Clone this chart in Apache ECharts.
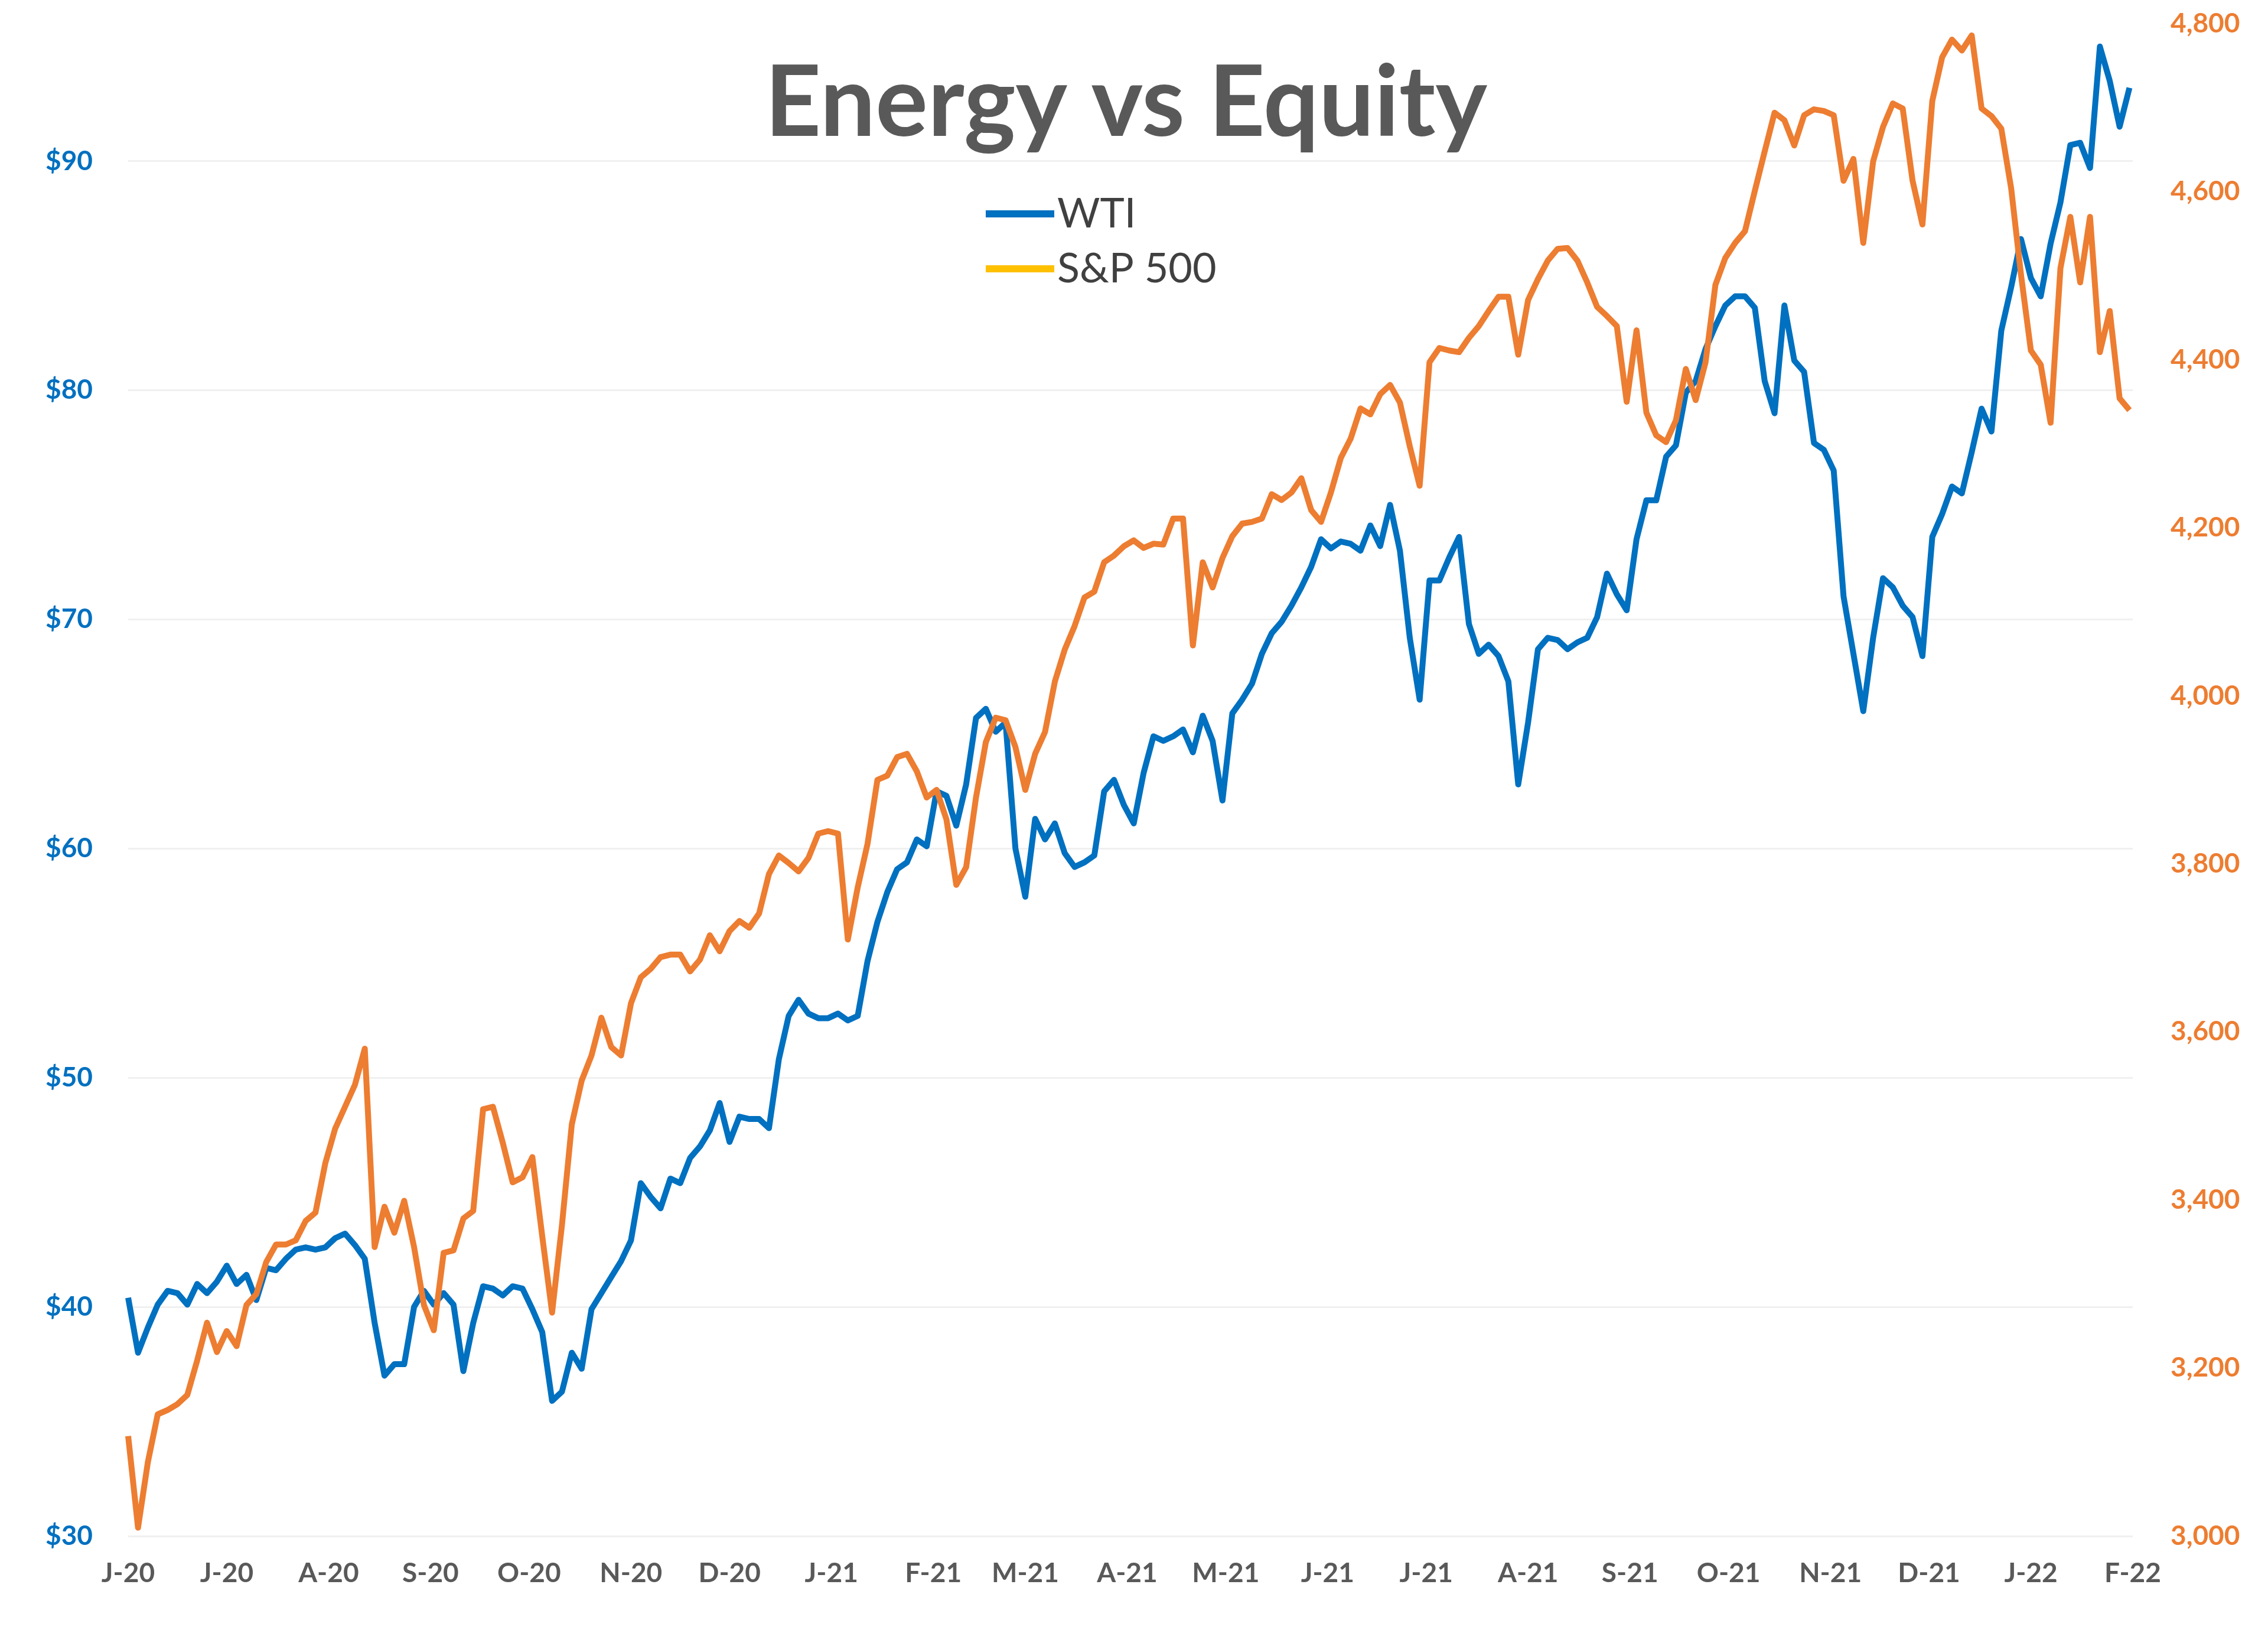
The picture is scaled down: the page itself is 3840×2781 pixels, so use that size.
<!DOCTYPE html>
<html>
<head>
<meta charset="utf-8">
<script src="https://cdn.jsdelivr.net/npm/echarts@6/dist/echarts.min.js"></script>
<style>
html,body{margin:0;padding:0;background:#fff;}
#chart{width:3840px;height:2781px;}
</style>
</head>
<body>
<div id="chart"></div>
<script>
// Sampling: one reading every 3 calendar days from 1 Jun 2020
const startDate = [2020, 5, 1];
const stepDays = 3;

// WTI crude, $/bbl (left axis)
const wti = [
40.4, 38.0, 39.1, 40.1, 40.7, 40.6, 40.1, 41.0, 40.6, 41.1,
41.8, 41.0, 41.4, 40.3, 41.7, 41.6, 42.1, 42.5, 42.6, 42.5,
42.6, 43.0, 43.2, 42.7, 42.1, 39.3, 37.0, 37.5, 37.5, 40.0,
40.7, 40.1, 40.6, 40.1, 37.2, 39.3, 40.9, 40.8, 40.5, 40.9,
40.8, 39.9, 38.9, 35.9, 36.3, 38.0, 37.3, 39.9, 40.6, 41.3,
42.0, 42.9, 45.4, 44.8, 44.3, 45.6, 45.4, 46.5, 47.0, 47.7,
48.9, 47.2, 48.3, 48.2, 48.2, 47.8, 50.8, 52.7, 53.4, 52.8,
52.6, 52.6, 52.8, 52.5, 52.7, 55.1, 56.8, 58.1, 59.1, 59.4,
60.4, 60.1, 62.5, 62.3, 61.0, 62.8, 65.7, 66.1, 65.1, 65.5,
60.0, 57.9, 61.3, 60.4, 61.1, 59.8, 59.2, 59.4, 59.7, 62.5,
63.0, 61.9, 61.1, 63.3, 64.9, 64.7, 64.9, 65.2, 64.2, 65.8,
64.7, 62.1, 65.9, 66.5, 67.2, 68.5, 69.4, 69.9, 70.6, 71.4,
72.3, 73.5, 73.1, 73.4, 73.3, 73.0, 74.1, 73.2, 75.0, 73.0,
69.2, 66.5, 71.7, 71.7, 72.7, 73.6, 69.8, 68.5, 68.9, 68.4,
67.3, 62.8, 65.5, 68.7, 69.2, 69.1, 68.7, 69.0, 69.2, 70.1,
72.0, 71.1, 70.4, 73.5, 75.2, 75.2, 77.1, 77.6, 79.9, 80.4,
81.8, 82.8, 83.7, 84.1, 84.1, 83.6, 80.4, 79.0, 83.7, 81.3,
80.8, 77.7, 77.4, 76.5, 71.0, 68.5, 66.0, 69.2, 71.8, 71.4,
70.6, 70.1, 68.4, 73.6, 74.6, 75.8, 75.5, 77.3, 79.2, 78.2,
82.6, 84.5, 86.6, 84.9, 84.1, 86.4, 88.2, 90.7, 90.8, 89.7,
95.0, 93.5, 91.5, 93.2
];

// S&P 500 index (right axis)
const spx = [
3119, 3010, 3088, 3145, 3150, 3157, 3168, 3209, 3254, 3219,
3244, 3226, 3275, 3288, 3326, 3347, 3347, 3352, 3375, 3385,
3444, 3485, 3511, 3537, 3580, 3344, 3392, 3361, 3399, 3344,
3275, 3245, 3337, 3340, 3378, 3387, 3508, 3511, 3468, 3421,
3427, 3451, 3357, 3266, 3370, 3490, 3542, 3572, 3617, 3582,
3572, 3634, 3665, 3675, 3689, 3692, 3692, 3672, 3686, 3715,
3696, 3720, 3732, 3724, 3741, 3788, 3810, 3801, 3791, 3807,
3836, 3839, 3836, 3710, 3772, 3824, 3900, 3905, 3927, 3931,
3910, 3879, 3888, 3853, 3775, 3796, 3879, 3945, 3974, 3971,
3939, 3888, 3931, 3957, 4017, 4055, 4083, 4117, 4124, 4159,
4167, 4178, 4185, 4176, 4181, 4180, 4211, 4211, 4060, 4159,
4129, 4164, 4190, 4205, 4207, 4211, 4240, 4233, 4242, 4259,
4221, 4207, 4242, 4283, 4306, 4342, 4335, 4359, 4370, 4349,
4297, 4250, 4397, 4414, 4411, 4409, 4426, 4440, 4458, 4475,
4475, 4406, 4471, 4496, 4518, 4532, 4533, 4518, 4492, 4463,
4452, 4440, 4350, 4435, 4337, 4310, 4302, 4328, 4389, 4352,
4397, 4489, 4521, 4539, 4553, 4601, 4648, 4694, 4685, 4655,
4691, 4698, 4696, 4691, 4613, 4639, 4539, 4636, 4677, 4705,
4699, 4613, 4561, 4708, 4760, 4781, 4768, 4786, 4699, 4690,
4675, 4604, 4501, 4411, 4394, 4325, 4509, 4570, 4492, 4570,
4409, 4458, 4354, 4340
];

const seriesNames = ['WTI', 'S&P 500'];
const monthInitials = ['J','F','M','A','M','J','J','A','S','O','N','D'];
const xRange = ['2020-06-01', '2022-02-01'];
const leftAxisRange = [30, 96, 10];
const rightAxisRange = [3000, 4800, 200];

const dates = wti.map((_, i) => new Date(startDate[0], startDate[1], startDate[2] + i * stepDays).getTime());
const wtiData = dates.map((d, i) => [d, wti[i]]);
const spxData = dates.map((d, i) => [d, spx[i]]);

const FONT = 'Lato';
const chart = echarts.init(document.getElementById('chart'), null, {renderer: 'canvas'});
chart.setOption({
  animation: false,
  backgroundColor: '#ffffff',
  title: {
    text: 'Energy vs Equity',
    left: 1290,
    top: 88,
    textStyle: {fontFamily: FONT, fontWeight: 'bold', fontSize: 166, color: '#595959'}
  },
  legend: {
    orient: 'vertical',
    left: 1664,
    top: 317,
    itemWidth: 116,
    itemHeight: 12,
    itemGap: 13,
    icon: 'rect',
    textStyle: {fontFamily: FONT, fontSize: 70, color: '#404040', lineHeight: 80},
    data: [
      {name: seriesNames[0], itemStyle: {color: '#0070C0'}},
      {name: seriesNames[1], itemStyle: {color: '#FFC000'}}
    ]
  },
  grid: {left: 217, right: 229, top: 40, bottom: 181, containLabel: false},
  xAxis: {
    type: 'time',
    min: xRange[0],
    max: xRange[1],
    splitNumber: 20,
    minInterval: 28 * 86400000,
    axisLine: {show: false},
    axisTick: {show: false},
    splitLine: {show: false},
    axisLabel: {
      fontFamily: FONT, fontWeight: 'bold', fontSize: 46, color: '#595959', margin: 40,
      showMinLabel: true, showMaxLabel: true,
      formatter: function (v) {
        const d = new Date(v);
        return monthInitials[d.getMonth()] + '-' + String(d.getFullYear()).slice(2);
      }
    }
  },
  yAxis: [
    {
      type: 'value',
      min: leftAxisRange[0], max: leftAxisRange[1], interval: leftAxisRange[2],
      axisLine: {show: false}, axisTick: {show: false},
      splitLine: {show: true, showMaxLine: false, lineStyle: {color: '#F0F0F0', width: 3}},
      axisLabel: {
        fontFamily: FONT, fontWeight: 'bold', fontSize: 46, color: '#0070C0', margin: 60,
        formatter: function (v) { return v % 10 === 0 ? '$' + v : ''; }
      }
    },
    {
      type: 'value',
      position: 'right',
      min: rightAxisRange[0], max: rightAxisRange[1], interval: rightAxisRange[2],
      axisLine: {show: false}, axisTick: {show: false},
      splitLine: {show: false},
      axisLabel: {
        fontFamily: FONT, fontWeight: 'bold', fontSize: 46, color: '#ED7D31', margin: 64,
        formatter: function (v) { return v.toLocaleString('en-US'); }
      }
    }
  ],
  series: [
    {
      name: seriesNames[0], type: 'line', yAxisIndex: 0, data: wtiData,
      showSymbol: false, symbol: 'none', z: 2,
      lineStyle: {color: '#0070C0', width: 10, join: 'round'},
      itemStyle: {color: '#0070C0'}
    },
    {
      name: seriesNames[1], type: 'line', yAxisIndex: 1, data: spxData,
      showSymbol: false, symbol: 'none', z: 3,
      lineStyle: {color: '#ED7D31', width: 10, join: 'round'},
      itemStyle: {color: '#ED7D31'}
    }
  ]
});
</script>
</body>
</html>
